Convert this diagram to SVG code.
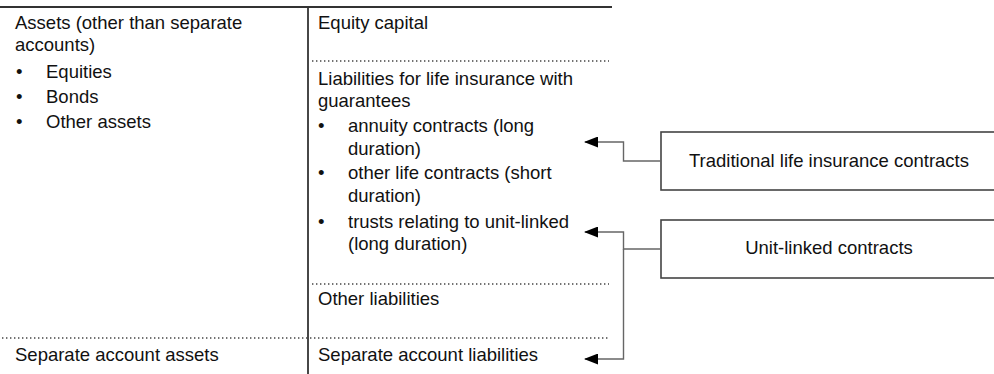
<svg xmlns="http://www.w3.org/2000/svg" width="994" height="374" viewBox="0 0 994 374">
<style>
text{font-family:"Liberation Sans",Arial,sans-serif;font-size:18.5px;fill:#111}
.rule{stroke:#333;stroke-width:1.8;fill:none}
.dot{stroke:#444;stroke-width:1.3;stroke-dasharray:1.4 2.6;fill:none}
.box{fill:#fff;stroke:#444;stroke-width:1.6}
.conn{stroke:#666;stroke-width:1.4;fill:none;marker-end:url(#ah)}
.mid{text-anchor:middle}
</style>
<defs>
<marker id="ah" viewBox="0 0 14 11" refX="13" refY="5.5" markerWidth="14" markerHeight="11" markerUnits="userSpaceOnUse" orient="auto">
<path d="M0,0 L14,5.5 L0,11 Z" fill="#000"/>
</marker>
</defs>
<g id="balance-frame">
<line class="rule" x1="0" y1="7" x2="612" y2="7"/>
<line class="rule" x1="308" y1="7" x2="308" y2="374"/>
<line class="dot" x1="312" y1="61" x2="609" y2="61"/>
<line class="dot" x1="312" y1="284" x2="609" y2="284"/>
<line class="dot" x1="2" y1="338" x2="609" y2="338"/>
</g>
<g id="assets">
<text x="15" y="29">Assets (other than separate</text>
<text x="15" y="51">accounts)</text>
<text x="16" y="78">•</text><text x="46" y="78">Equities</text>
<text x="16" y="103">•</text><text x="46" y="103">Bonds</text>
<text x="16" y="128">•</text><text x="46" y="128">Other assets</text>
</g>
<g id="separate-assets">
<text x="15" y="361">Separate account assets</text>
</g>
<g id="equity">
<text x="318" y="29">Equity capital</text>
</g>
<g id="liabilities">
<text x="318" y="85">Liabilities for life insurance with</text>
<text x="318" y="107">guarantees</text>
<text x="318" y="132">•</text><text x="348" y="132">annuity contracts (long</text>
<text x="348" y="155">duration)</text>
<text x="318" y="179">•</text><text x="348" y="179">other life contracts (short</text>
<text x="348" y="202">duration)</text>
<text x="318" y="228">•</text><text x="348" y="228">trusts relating to unit-linked</text>
<text x="348" y="250">(long duration)</text>
</g>
<g id="other-liabilities">
<text x="318" y="305">Other liabilities</text>
</g>
<g id="separate-liabilities">
<text x="318" y="361">Separate account liabilities</text>
</g>
<g id="traditional">
<rect class="box" x="661" y="132" width="340" height="58"/>
<text class="mid" x="829" y="167">Traditional life insurance contracts</text>
</g>
<g id="unit-linked">
<rect class="box" x="661" y="220" width="340" height="58"/>
<text class="mid" x="829" y="254">Unit-linked contracts</text>
</g>
<g id="connectors">
<polyline class="conn" points="661,161 623.5,161 623.5,142 585,142"/>
<polyline class="conn" points="661,249 623.5,249 623.5,232 585,232"/>
<polyline class="conn" points="623.5,249 623.5,359 585,359"/>
</g>
</svg>
